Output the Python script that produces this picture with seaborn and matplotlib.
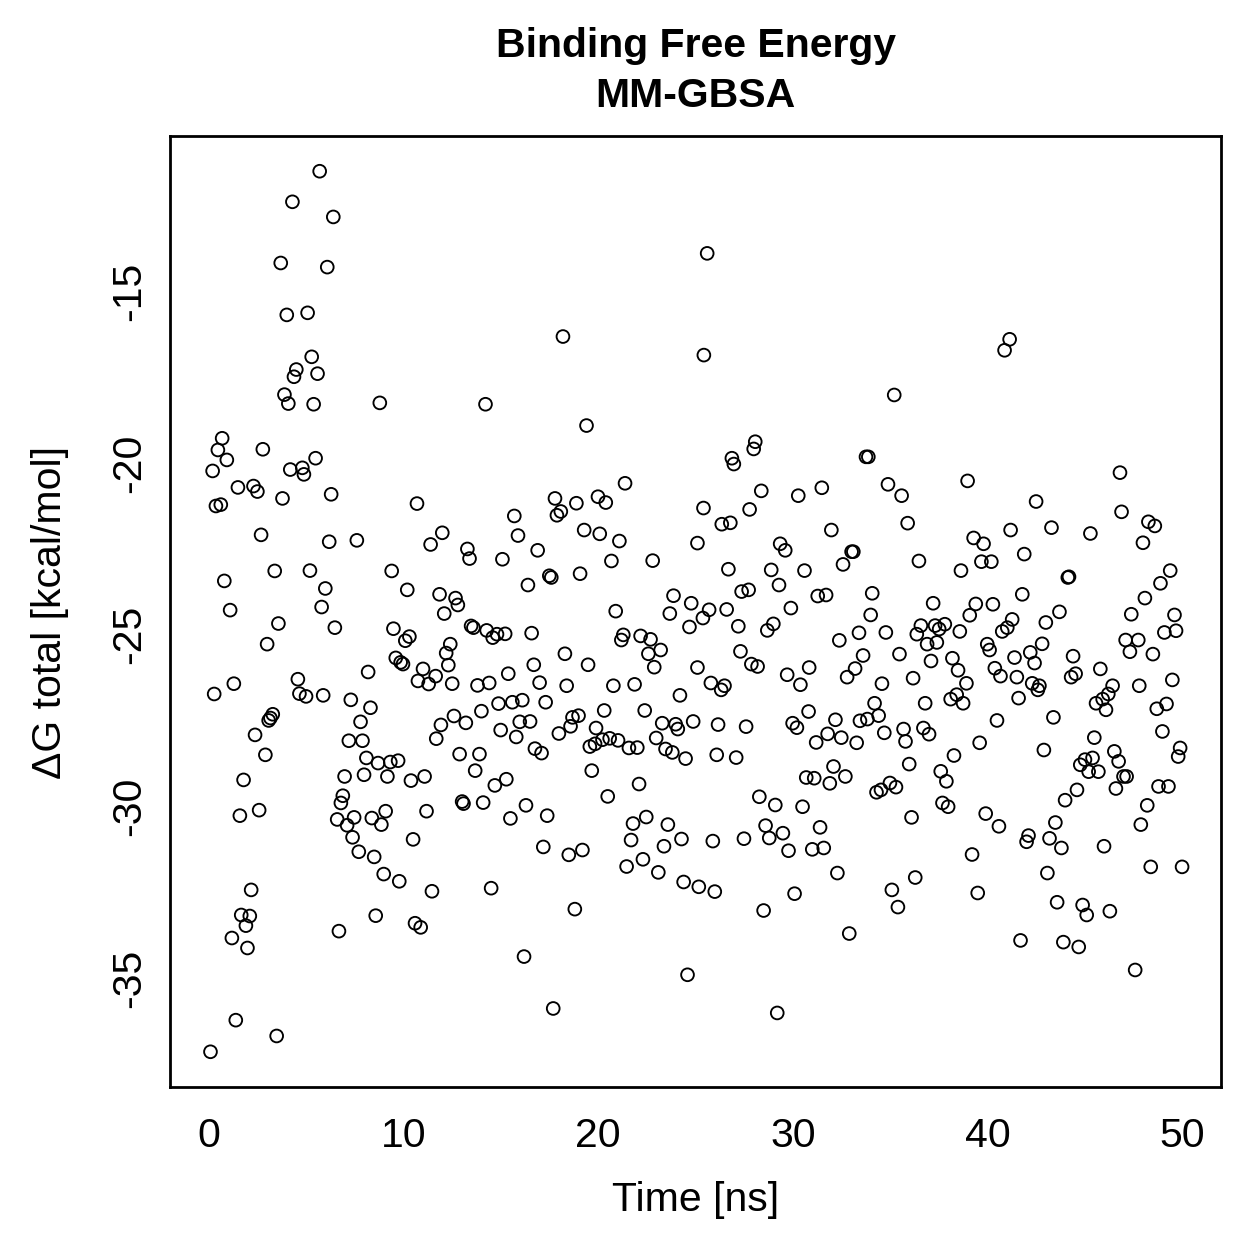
import numpy as np
import pandas as pd
import matplotlib
matplotlib.use("Agg")
import matplotlib.pyplot as plt
import seaborn as sns

# (time [ns], dG total [kcal/mol])
time_ns = [
    5.69, 4.29, 6.39, 3.69, 6.08, 4.00, 5.07, 5.28, 4.49, 4.37, 5.58, 3.88, 4.08, 5.38, 8.78, 0.68, 0.46, 0.92, 2.77, 5.48,
    18.19, 14.21, 19.40, 25.43, 25.60, 35.21, 28.07, 27.99, 26.87, 26.97, 33.76, 33.88, 41.14, 40.88,
    0.19, 4.18, 4.80, 4.88, 1.49, 2.29, 2.49, 3.78, 6.28, 10.69, 0.36, 0.61, 2.68, 6.18, 7.60, 11.39, 3.38, 5.19, 9.39, 0.79,
    5.98, 10.19, 1.09, 5.79, 3.57, 6.47, 9.48, 10.30, 10.09, 2.99, 9.60, 9.85, 9.97, 8.18, 11.00, 11.65, 10.74, 11.29, 1.28, 0.27,
    4.57, 4.65, 4.99, 5.87, 7.29, 8.30, 7.79, 3.28, 3.16, 3.07, 2.37, 7.19, 7.89, 2.90, 8.09, 8.69, 9.32, 9.72,
    1.78, 6.97, 7.97, 9.17, 10.38, 11.08, 6.88, 6.78, 1.59, 2.58, 6.59, 7.46, 8.37, 9.08, 8.86, 11.18, 7.10, 7.38, 10.49, 7.70,
    8.49, 8.98, 9.78, 11.46, 2.17, 1.66, 2.10, 1.90, 1.18, 1.98, 8.57, 6.68, 10.59, 10.88, 1.38, 3.48, 0.08,
    21.38, 17.78, 18.88, 19.99, 20.39, 18.08, 17.88, 15.69, 25.41, 11.99, 15.88, 19.28, 20.08, 21.09, 25.10, 13.28, 13.39, 15.08,
    16.89, 20.68, 22.80, 17.49, 17.59, 19.07, 16.39, 11.85, 12.67, 12.79, 12.09, 20.90, 23.87, 24.78, 23.68, 24.69, 25.38, 13.47,
    13.59, 14.27, 14.80, 14.58, 15.22, 16.58, 21.29, 21.19, 22.18, 22.69, 23.21, 22.58, 22.88, 25.10, 12.40, 12.19, 12.30, 12.50,
    13.80, 14.40, 15.38, 16.69, 16.99, 18.29, 19.48, 18.38, 20.78, 21.87, 24.20, 14.88, 15.59, 16.10, 17.30, 14.00, 12.59, 13.20,
    11.92, 11.68, 20.31, 22.39, 15.97, 16.50, 14.99, 15.79, 18.68, 18.99, 18.58, 17.98, 19.89, 23.29, 23.98, 24.09, 24.88, 22.98,
    19.57, 19.84, 20.22, 20.59, 21.02, 21.58, 22.01, 23.46, 23.81, 24.49, 16.75, 17.09, 12.88, 13.90, 13.68, 19.67,
    15.28, 14.69, 22.10, 13.01, 13.08, 14.09, 16.29, 15.49, 17.38, 20.49, 22.47, 21.79, 23.58, 21.69, 23.38, 24.28, 17.18, 18.49,
    19.19, 22.30, 21.46, 23.09, 24.39, 25.17, 14.50, 18.80, 16.19, 24.59, 17.69,
    28.38, 30.28, 31.49, 34.89, 35.59, 38.98, 27.78, 26.35, 26.79, 35.90, 31.98, 29.35, 29.61, 33.02, 33.11, 32.58, 36.48, 38.64,
    26.69, 28.89, 30.60, 29.29, 27.37, 27.73, 31.28, 31.71, 34.08, 37.21, 25.70, 26.60, 29.90, 34.00, 27.20, 29.00, 28.69, 33.40,
    34.78, 32.39, 36.58, 37.31, 37.81, 37.52, 36.37, 36.90, 37.40, 38.58, 27.31, 27.87, 28.19, 30.84, 29.71, 30.39, 33.61, 33.20,
    32.79, 35.48, 37.10, 38.20, 38.49, 36.18, 34.58, 25.79, 26.32, 26.49, 34.20, 34.41, 36.80, 38.11, 38.42, 38.75, 30.81, 32.19,
    33.45, 33.83, 26.16, 27.60, 29.99, 30.21, 35.69, 36.71, 37.00, 31.79, 32.49, 34.70, 31.20, 33.28, 35.79, 26.09, 27.09, 38.28,
    32.09, 35.98, 37.60,
    30.69, 31.10, 31.90, 32.70, 34.30, 34.53, 34.99, 35.30, 37.89, 37.69, 37.98, 28.28, 29.10, 30.50, 36.10, 28.60, 29.49, 31.40,
    25.89, 27.49, 28.79, 29.78, 31.00, 31.59, 32.29, 36.29, 35.09, 35.40, 25.99, 30.09, 28.50, 32.90, 29.20,
    46.81, 42.50, 46.89, 48.27, 48.60, 41.19, 43.29, 45.29, 47.99, 39.29, 39.80, 41.89, 39.69, 40.20, 44.13, 44.19, 49.39, 48.89,
    48.09, 41.79, 39.40, 39.09, 40.28, 43.70, 47.39, 49.61, 41.27, 41.02, 40.76, 43.00, 49.09, 49.69, 39.99, 40.11, 42.20, 42.81,
    42.42, 41.39, 44.40, 47.10, 47.75, 47.32, 48.50, 38.92, 40.38, 40.67, 41.51, 42.30, 42.67, 42.59, 41.60, 44.30, 44.53, 45.80,
    49.50, 47.80, 46.43, 46.21, 45.92, 45.58, 46.09, 48.70, 49.20, 40.49, 43.39, 45.49, 48.99, 39.60, 42.90, 46.52, 46.74, 49.90,
    49.80, 44.77, 45.01, 45.40,
    45.20, 45.70, 46.99, 47.15, 44.60, 43.99, 46.60, 48.79, 49.30, 48.21, 39.91, 40.59, 43.49, 47.88, 42.11, 42.01, 43.19, 43.80,
    45.99, 39.21, 43.08, 48.39, 50.00, 39.50, 43.58, 44.89, 45.10, 46.29, 41.70, 43.90, 44.69, 47.59,
]

dg_total = [
    -11.51, -12.40, -12.84, -14.18, -14.30, -15.69, -15.63, -16.91, -17.28, -17.49, -17.40, -18.01, -18.27, -18.29, -18.25, -19.28, -19.62, -19.91, -19.60, -19.86,
    -16.32, -18.29, -18.91, -16.86, -13.90, -18.02, -19.38, -19.59, -19.86, -20.03, -19.82, -19.82, -16.40, -16.72,
    -20.23, -20.19, -20.14, -20.33, -20.71, -20.67, -20.83, -21.03, -20.91, -21.18, -21.25, -21.21, -22.09, -22.29, -22.25, -22.37, -23.14, -23.13, -23.14, -23.43,
    -23.65, -23.69, -24.28, -24.19, -24.67, -24.79, -24.82, -25.05, -25.17, -25.27, -25.67, -25.80, -25.85, -26.08, -25.99, -26.20, -26.34, -26.43, -26.42, -26.72,
    -26.29, -26.71, -26.79, -26.76, -26.89, -27.12, -27.53, -27.31, -27.42, -27.49, -27.91, -28.08, -28.08, -28.49, -28.58, -28.73, -28.70, -28.66,
    -29.22, -29.12, -29.07, -29.12, -29.24, -29.12, -29.68, -29.89, -30.26, -30.10, -30.37, -30.31, -30.33, -30.13, -30.52, -30.13, -30.54, -30.89, -30.95, -31.31,
    -31.46, -31.96, -32.17, -32.46, -32.42, -33.15, -33.18, -33.46, -33.82, -34.11, -33.17, -33.62, -33.39, -33.51, -36.21, -36.67, -37.13,
    -20.59, -21.03, -21.17, -20.98, -21.15, -21.41, -21.52, -21.54, -21.31, -22.03, -22.11, -21.95, -22.06, -22.27, -22.33, -22.50, -22.78, -22.80,
    -22.54, -22.85, -22.84, -23.28, -23.33, -23.22, -23.55, -23.82, -23.93, -24.13, -24.38, -24.31, -23.86, -24.08, -24.38, -24.77, -24.51, -24.74,
    -24.79, -24.87, -24.98, -25.08, -24.97, -24.95, -25.00, -25.15, -25.03, -25.13, -25.44, -25.55, -25.94, -25.95, -25.27, -25.53, -25.88, -26.42,
    -26.47, -26.40, -26.13, -25.87, -26.39, -25.55, -25.87, -26.48, -26.48, -26.44, -26.76, -27.00, -26.96, -26.90, -26.96, -27.22, -27.36, -27.56,
    -27.62, -28.02, -27.20, -27.20, -27.53, -27.52, -27.77, -27.97, -27.40, -27.35, -27.66, -27.87, -27.71, -27.57, -27.60, -27.74, -27.52, -28.00,
    -28.25, -28.17, -28.05, -28.01, -28.07, -28.29, -28.28, -28.32, -28.42, -28.60, -28.31, -28.44, -28.47, -28.47, -28.95, -28.95,
    -29.20, -29.38, -29.34, -29.85, -29.91, -29.88, -29.96, -30.34, -30.26, -29.70, -30.30, -30.49, -30.52, -30.97, -31.15, -30.94, -31.17, -31.40,
    -31.26, -31.53, -31.74, -31.91, -32.19, -32.33, -32.37, -32.98, -34.36, -34.89, -35.87,
    -20.81, -20.95, -20.72, -20.62, -20.95, -20.52, -21.35, -21.78, -21.74, -21.75, -21.95, -22.35, -22.54, -22.58, -22.58, -22.95, -22.85, -23.13,
    -23.09, -23.11, -23.13, -23.55, -23.74, -23.69, -23.87, -23.84, -23.79, -24.08, -24.27, -24.26, -24.22, -24.42, -24.75, -24.68, -24.87, -24.94,
    -24.93, -25.16, -24.73, -24.73, -24.69, -24.83, -24.98, -25.27, -25.22, -24.90, -25.48, -25.85, -25.92, -25.95, -26.16, -26.45, -25.60, -25.98,
    -26.23, -25.56, -25.76, -25.68, -26.03, -26.26, -26.42, -26.40, -26.60, -26.48, -26.99, -27.35, -26.99, -26.87, -26.74, -26.99, -27.23, -27.47,
    -27.50, -27.45, -27.61, -27.67, -27.57, -27.70, -27.74, -27.71, -27.89, -27.88, -27.99, -27.85, -28.13, -28.14, -28.10, -28.49, -28.57, -28.51,
    -28.83, -28.76, -28.97,
    -29.15, -29.17, -29.32, -29.12, -29.58, -29.51, -29.31, -29.43, -29.26, -29.89, -30.00, -29.71, -29.95, -30.00, -30.31, -30.55, -30.77, -30.60,
    -31.00, -30.93, -30.91, -31.28, -31.24, -31.20, -31.93, -32.06, -32.42, -32.92, -32.47, -32.53, -33.02, -33.69, -36.00,
    -20.28, -21.12, -21.42, -21.71, -21.83, -21.95, -21.88, -22.05, -22.32, -22.18, -22.35, -22.65, -22.87, -22.87, -23.33, -23.31, -23.13, -23.50,
    -23.93, -23.82, -24.10, -24.43, -24.11, -24.33, -24.40, -24.42, -24.55, -24.79, -24.90, -24.64, -24.93, -24.88, -25.27, -25.44, -25.51, -25.26,
    -25.82, -25.66, -25.62, -25.15, -25.15, -25.49, -25.56, -26.41, -25.97, -26.20, -26.23, -26.41, -26.48, -26.60, -26.84, -26.23, -26.13, -25.99,
    -26.31, -26.48, -26.48, -26.72, -26.87, -26.99, -27.18, -27.15, -27.01, -27.49, -27.40, -27.99, -27.81, -28.14, -28.35, -28.39, -28.68, -28.29,
    -28.54, -28.78, -28.63, -28.58,
    -28.98, -28.98, -29.12, -29.12, -29.51, -29.81, -29.47, -29.41, -29.41, -29.96, -30.20, -30.57, -30.46, -30.52, -30.84, -31.02, -30.92, -31.20,
    -31.15, -31.39, -31.93, -31.75, -31.75, -32.51, -32.78, -32.86, -33.15, -33.04, -33.89, -33.94, -34.08, -34.75,
]

title_lines = ["Binding Free Energy", "MM-GBSA"]
x_label = "Time [ns]"
y_label = "\u0394G total [kcal/mol]"
x_ticks = [0, 10, 20, 30, 40, 50]
y_ticks = [-35, -30, -25, -20, -15]

df = pd.DataFrame({"time": time_ns, "dg": dg_total})

sns.set_theme(style="white")
plt.rcParams["font.family"] = ["Liberation Sans", "DejaVu Sans"]
plt.rcParams["text.color"] = "black"
plt.rcParams["axes.labelcolor"] = "black"
plt.rcParams["xtick.color"] = "black"
plt.rcParams["ytick.color"] = "black"

FS = 29.5
W = H = 1259
fig = plt.figure(figsize=(W / 100, H / 100), dpi=100)
ax = fig.add_axes([170 / W, 1 - 1087 / H, (1221 - 170) / W, (1087 - 136) / H])

sns.scatterplot(data=df, x="time", y="dg", ax=ax, marker="o", s=84,
                facecolor="none", edgecolor="black", linewidth=1.35, legend=False)

xr = 50 - 0
ax.set_xlim(0 - 0.04 * xr, 50 + 0.04 * xr)
ymin, ymax = min(dg_total), max(dg_total)
yr = ymax - ymin
ax.set_ylim(ymin - 0.04 * yr, ymax + 0.04 * yr)

ax.set_xticks(x_ticks)
ax.set_xticklabels([str(t) for t in x_ticks])
ax.set_yticks(y_ticks)
ax.set_yticklabels([str(t) for t in y_ticks], rotation=90, va="center")
ax.tick_params(axis="both", direction="out", length=9.5, width=1.6, color="black",
               labelsize=FS, pad=6, labelcolor="black")
ax.tick_params(axis="x", pad=12)
for sp in ax.spines.values():
    sp.set_visible(True)
    sp.set_color("black")
    sp.set_linewidth(2.0)

ax.set_xlabel("")
ax.set_ylabel("")
fig.text(695.5 / W, 1 - 1200 / H, x_label, ha="center", va="center", fontsize=FS, color="black")
fig.text(50 / W, 1 - 612 / H, y_label, ha="center", va="center", rotation=90, fontsize=FS, color="black")
fig.text(695.5 / W, 1 - 46 / H, title_lines[0], ha="center", va="center", fontsize=FS,
         fontweight="bold", color="black")
fig.text(695.5 / W, 1 - 96 / H, title_lines[1], ha="center", va="center", fontsize=FS,
         fontweight="bold", color="black")

fig.savefig("out.png", dpi=100, facecolor="white")
